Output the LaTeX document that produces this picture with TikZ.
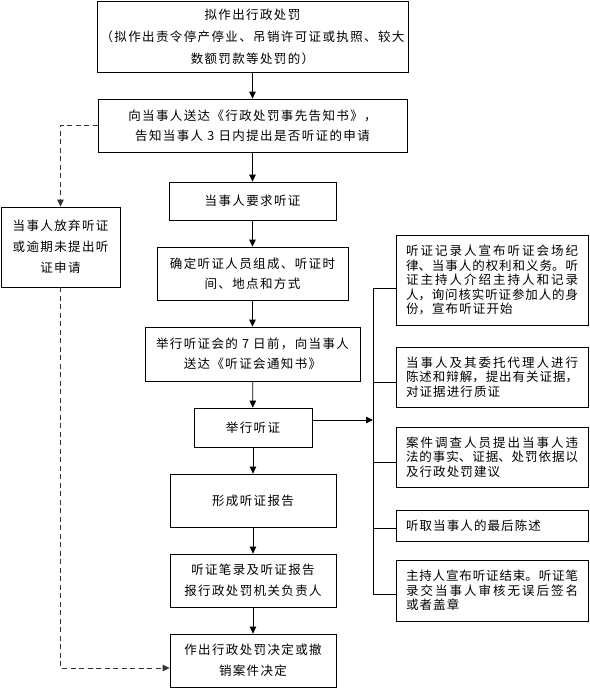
\documentclass[tikz,border=0pt]{standalone}
\usepackage{fontspec}
\newfontfamily\cjkmain[LetterSpace=11]{Noto Sans CJK SC}
\newfontfamily\cjkside{Noto Sans CJK SC}
\XeTeXlinebreaklocale "zh"
\XeTeXlinebreakskip=0pt plus 4pt
\newcommand\sidefont{\cjkside\fontsize{12.5}{14.6}\selectfont\XeTeXlinebreakskip=1.1pt plus 4pt minus 1.1pt\relax}
\usetikzlibrary{arrows.meta}
\begin{document}
\begin{tikzpicture}[x=1pt,y=1pt,
  mbox/.style={draw, line width=0.8pt, inner sep=0pt, align=center,
    font=\cjkmain\fontsize{12.5}{21}\selectfont},
  sbox/.style={draw, line width=0.8pt, inner xsep=10pt, inner ysep=0pt,
    minimum width=192pt, text width=172pt, align=justify,
    font=\sidefont},
  arr/.style={line width=0.8pt, -{Triangle[length=7pt,width=6.5pt]}},
  dashconn/.style={line width=0.8pt, black!80, dash pattern=on 5pt off 3.5pt,
    -{Triangle[length=7pt,width=6.5pt]}},
  plain/.style={line width=0.8pt}]
\useasboundingbox (0,0) rectangle (589,-688);

% main column
\node[mbox, minimum width=311pt, minimum height=71pt, font=\cjkmain\fontsize{12.5}{22}\selectfont] (b1) at (252.5,-36.5)
  {拟作出行政处罚\\（拟作出责令停产停业、吊销许可证或执照、较大\\数额罚款等处罚的）};
\node[mbox, minimum width=309pt, minimum height=53pt, font=\cjkmain\fontsize{12.5}{20}\selectfont] (b2) at (252.5,-125.5)
  {向当事人送达《行政处罚事先告知书》，\\告知当事人 3 日内提出是否听证的申请};
\node[mbox, minimum width=167pt, minimum height=38pt] (b3) at (252.5,-201)
  {当事人要求听证};
\node[mbox, minimum width=191pt, minimum height=53pt, font=\cjkmain\fontsize{12.5}{20}\selectfont] (b4) at (252.5,-273.5)
  {确定听证人员组成、听证时\\间、地点和方式};
\node[mbox, minimum width=215pt, minimum height=54pt, font=\cjkmain\fontsize{12.5}{20}\selectfont] (b5) at (252.5,-354)
  {举行听证会的 7 日前，向当事人\\送达《听证会通知书》};
\node[mbox, minimum width=118pt, minimum height=39pt] (b6) at (253,-427.5)
  {举行听证};
\node[mbox, minimum width=166pt, minimum height=53pt] (b7) at (253,-500.5)
  {形成听证报告};
\node[mbox, minimum width=166pt, minimum height=53pt] (b8) at (253,-580.5)
  {听证笔录及听证报告\\报行政处罚机关负责人};
\node[mbox, minimum width=166pt, minimum height=53pt] (b9) at (253,-660.5)
  {作出行政处罚决定或撤\\销案件决定};

% left box
\node[mbox, minimum width=119pt, minimum height=80pt] (lb) at (60.5,-247)
  {当事人放弃听证\\或逾期未提出听\\证申请};

% right boxes
\node[sbox, minimum height=90pt] (r1) at (492,-280)
  {听证记录人宣布听证会场纪\linebreak 律、当事人的权利和义务。听\linebreak 证主持人介绍主持人和记录\linebreak 人，询问核实听证参加人的身\linebreak 份，宣布听证开始};
\node[sbox, minimum height=60pt] (r2) at (492,-377)
  {当事人及其委托代理人进行\linebreak 陈述和辩解，提出有关证据，\linebreak 对证据进行质证};
\node[sbox, minimum height=60pt] (r3) at (492,-457)
  {案件调查人员提出当事人违\linebreak 法的事实、证据、处罚依据以\linebreak 及行政处罚建议};
\node[sbox, minimum height=31pt] (r4) at (492,-525.5)
  {听取当事人的最后陈述};
\node[sbox, minimum height=61pt] (r5) at (492,-590.5)
  {主持人宣布听证结束。听证笔\linebreak 录交当事人审核无误后签名\linebreak 或者盖章};

% main arrows
\draw[arr] (b1) -- (b2);
\draw[arr] (b2) -- (b3);
\draw[arr] (b3) -- (b4);
\draw[arr] (b4) -- (b5);
\draw[arr] (b5) -- (b6);
\draw[arr] (b6) -- (b7);
\draw[arr] (b7) -- (b8);
\draw[arr] (b8) -- (b9);

% dashed path
\draw[dashconn] (b2.west) -| (lb.north);
\draw[dashconn] (lb.south) |- ([yshift=-7.5pt]b9.west);

% bracket
\coordinate (t1) at (373,-288);
\coordinate (t2) at (373,-382);
\coordinate (t3) at (373,-462);
\coordinate (t4) at (373,-528);
\coordinate (t5) at (373,-594);
\coordinate (ta) at (373,-420);
\draw[plain] (t1) -- (t5);
\draw[plain] (t1) -- (t1 -| r1.west);
\draw[plain] (t2) -- (t2 -| r2.west);
\draw[plain] (t3) -- (t3 -| r3.west);
\draw[plain] (t4) -- (t4 -| r4.west);
\draw[plain] (t5) -- (t5 -| r5.west);
\draw[arr] (ta -| b6.east) -- (ta);
\end{tikzpicture}
\end{document}
